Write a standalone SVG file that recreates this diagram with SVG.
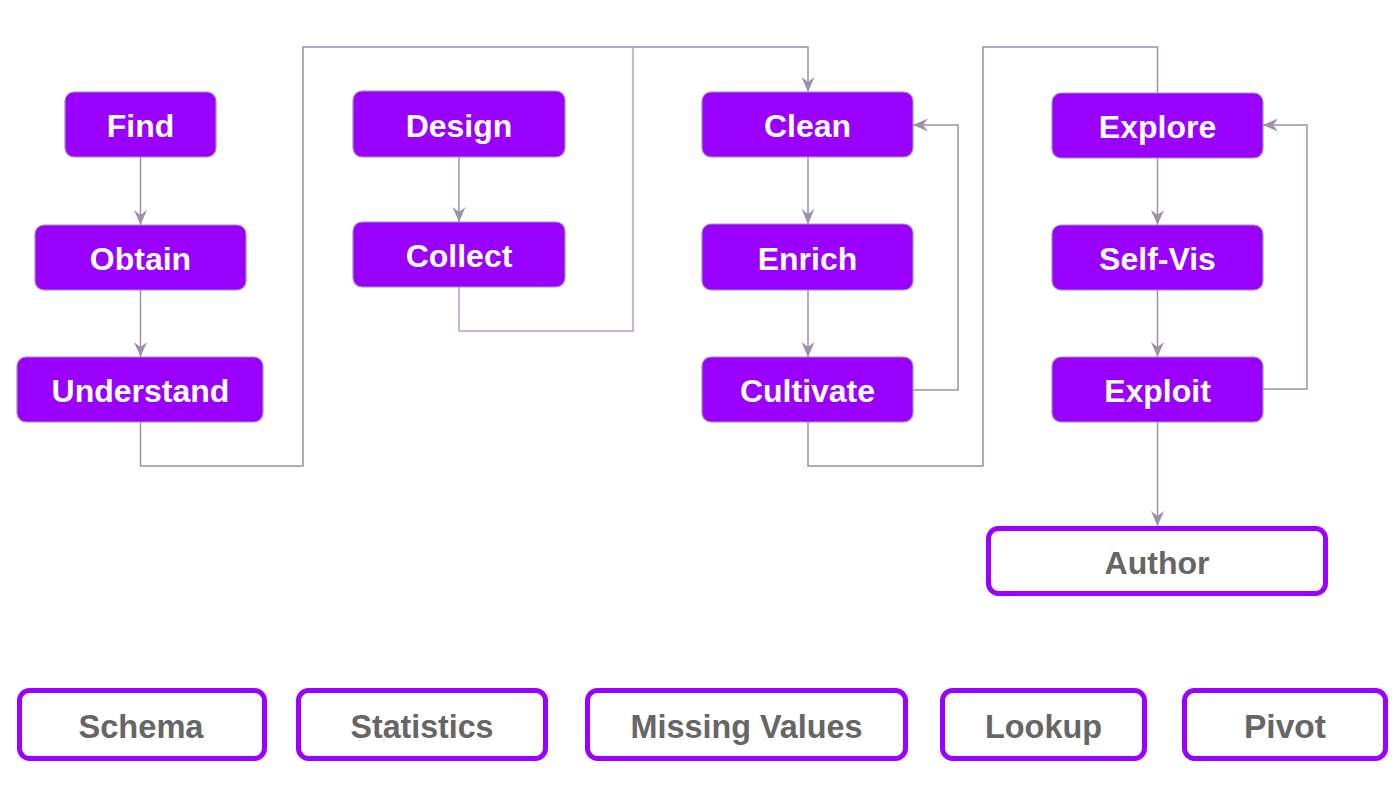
<svg xmlns="http://www.w3.org/2000/svg" width="1400" height="785" viewBox="0 0 1400 785">
<style>
.fill rect{fill:#9900ff;stroke:#a391b0;stroke-width:1.2}
.fill text{fill:#ffffff;font-family:"Liberation Sans",Arial,sans-serif;font-weight:bold;font-size:32px;text-anchor:middle}
.out rect{fill:#ffffff;stroke:#9900ff;stroke-width:5}
.out text{fill:#666666;font-family:"Liberation Sans",Arial,sans-serif;font-weight:bold;font-size:34px;text-anchor:middle}
.conn path{fill:none;stroke:#9d90a8;stroke-width:1.5}
.conn path.lt{stroke:#b89ad2}
</style>
<defs>
<marker id="ah" markerUnits="userSpaceOnUse" markerWidth="16" markerHeight="16" viewBox="0 0 16 16" refX="15" refY="8" orient="auto">
<path d="M0,1.5 L15,8 L0,14.5 L5,8 z" fill="#9d90a8"/>
</marker>
</defs>
<rect width="1400" height="785" fill="#ffffff"/>
<g id="connectors" class="conn">
<path d="M140.5 157 V225" marker-end="url(#ah)"/>
<path d="M140.5 290 V357" marker-end="url(#ah)"/>
<path d="M140.5 422 V466 H303 V47 H808 V92" marker-end="url(#ah)"/>
<path d="M459 157 V222" marker-end="url(#ah)"/>
<path class="lt" d="M459 287 V331 H633 V47"/>
<path d="M808 157 V224" marker-end="url(#ah)"/>
<path d="M808 290 V357" marker-end="url(#ah)"/>
<path d="M913 390 H958 V125 H913" marker-end="url(#ah)"/>
<path d="M808 422 V466 H983 V47 H1157.5 V93"/>
<path d="M1157.5 158 V225" marker-end="url(#ah)"/>
<path d="M1157.5 290 V357" marker-end="url(#ah)"/>
<path d="M1263 389 H1307 V125 H1263" marker-end="url(#ah)"/>
<path d="M1157.5 422 V526" marker-end="url(#ah)"/>
</g>
<g id="find" class="fill"><rect x="65" y="92" width="151" height="65" rx="9"/><text x="140.5" y="137">Find</text></g>
<g id="obtain" class="fill"><rect x="35" y="225" width="211" height="65" rx="9"/><text x="140.5" y="270">Obtain</text></g>
<g id="understand" class="fill"><rect x="17" y="357" width="246" height="65" rx="9"/><text x="140.5" y="402">Understand</text></g>
<g id="design" class="fill"><rect x="353" y="91" width="212" height="66" rx="9"/><text x="459" y="137">Design</text></g>
<g id="collect" class="fill"><rect x="353" y="222" width="212" height="65" rx="9"/><text x="459" y="267">Collect</text></g>
<g id="clean" class="fill"><rect x="702" y="92" width="211" height="65" rx="9"/><text x="807.5" y="137">Clean</text></g>
<g id="enrich" class="fill"><rect x="702" y="224" width="211" height="66" rx="9"/><text x="807.5" y="270">Enrich</text></g>
<g id="cultivate" class="fill"><rect x="702" y="357" width="211" height="65" rx="9"/><text x="807.5" y="402">Cultivate</text></g>
<g id="explore" class="fill"><rect x="1052" y="93" width="211" height="65" rx="9"/><text x="1157.5" y="138">Explore</text></g>
<g id="selfvis" class="fill"><rect x="1052" y="225" width="211" height="65" rx="9"/><text x="1157.5" y="270">Self-Vis</text></g>
<g id="exploit" class="fill"><rect x="1052" y="357" width="211" height="65" rx="9"/><text x="1157.5" y="402">Exploit</text></g>
<g id="author" class="out"><rect x="988.5" y="528.5" width="337" height="65" rx="10"/><text x="1157" y="574" style="font-size:32px">Author</text></g>
<g id="schema" class="out"><rect x="19.5" y="690.5" width="245" height="68" rx="10"/><text x="141" y="738" textLength="125" lengthAdjust="spacingAndGlyphs">Schema</text></g>
<g id="statistics" class="out"><rect x="298.5" y="690.5" width="247" height="68" rx="10"/><text x="422" y="738" textLength="143" lengthAdjust="spacingAndGlyphs">Statistics</text></g>
<g id="missing" class="out"><rect x="587.5" y="690.5" width="318" height="68" rx="10"/><text x="746.5" y="738" textLength="232" lengthAdjust="spacingAndGlyphs">Missing Values</text></g>
<g id="lookup" class="out"><rect x="942.5" y="690.5" width="202" height="68" rx="10"/><text x="1043.5" y="738" textLength="117" lengthAdjust="spacingAndGlyphs">Lookup</text></g>
<g id="pivot" class="out"><rect x="1184.5" y="690.5" width="201" height="68" rx="10"/><text x="1285" y="738" textLength="82" lengthAdjust="spacingAndGlyphs">Pivot</text></g>
</svg>
